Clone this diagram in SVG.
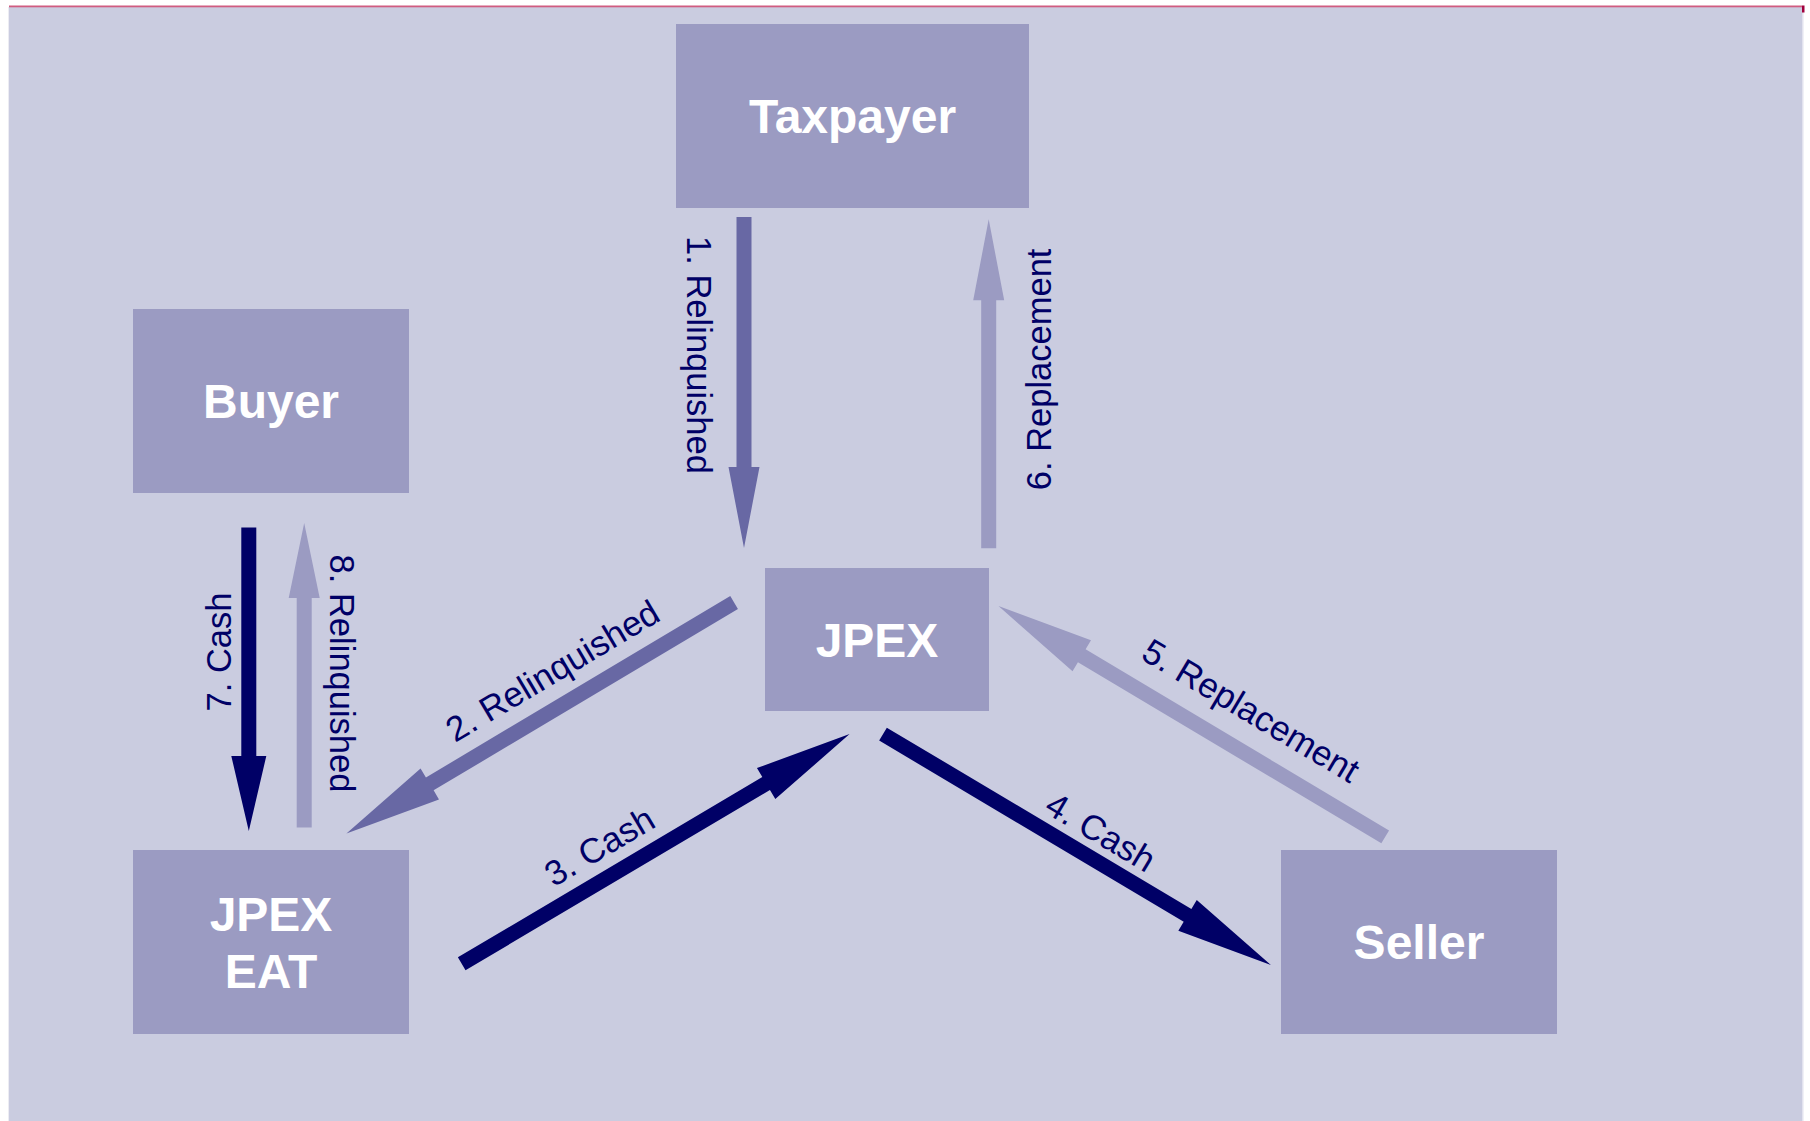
<svg xmlns="http://www.w3.org/2000/svg" width="1810" height="1121" viewBox="0 0 1810 1121">
  <style>
    .node rect { fill: #9b9bc2; }
    .node text { font-family: "Liberation Sans", Arial, sans-serif; font-weight: bold; font-size: 48px; fill: #ffffff; text-anchor: middle; }
    .lbl { font-family: "Liberation Sans", Arial, sans-serif; font-size: 34.5px; fill: #000066; text-anchor: middle; }
    .lbl.diag { font-size: 35px; }
    .dark { fill: #000066; }
    .mid { fill: #6868a4; }
    .light { fill: #9b9bc2; }
  </style>

  <!-- page and panel -->
  <rect x="0" y="0" width="1810" height="1121" fill="#ffffff"/>
  <rect x="9" y="7" width="1793" height="1114" fill="#cacce0"/>
  <rect x="8" y="7" width="1" height="1114" fill="#ececf3"/>
  <rect x="1802" y="7" width="1.5" height="1114" fill="#e2e2ee"/>
  <rect x="9" y="5.5" width="1793" height="1.8" fill="#d05c80"/>
  <rect x="1802" y="5.5" width="2.5" height="7" fill="#a0003c"/>

  <!-- connectors: arrows drawn along local +x, start at origin -->
  <g id="connectors">
    <!-- 1. Relinquished: Taxpayer -> JPEX -->
    <polygon class="mid" transform="translate(744,217) rotate(90)" points="0,-7.5 250,-7.5 250,-15.5 331,0 250,15.5 250,7.5 0,7.5"/>
    <!-- 6. Replacement: JPEX -> Taxpayer -->
    <polygon class="light" transform="translate(988.7,548.3) rotate(-90)" points="0,-7.5 248,-7.5 248,-15.5 329,0 248,15.5 248,7.5 0,7.5"/>
    <!-- 7. Cash: Buyer -> JPEX EAT -->
    <polygon class="dark" transform="translate(248.8,527.5) rotate(90)" points="0,-7.5 228.5,-7.5 228.5,-17.5 303.5,0 228.5,17.5 228.5,7.5 0,7.5"/>
    <!-- 8. Relinquished: JPEX EAT -> Buyer -->
    <polygon class="light" transform="translate(304.2,827.6) rotate(-90)" points="0,-7.5 229.7,-7.5 229.7,-15.5 304.7,0 229.7,15.5 229.7,7.5 0,7.5"/>
    <!-- 2. Relinquished: JPEX -> JPEX EAT -->
    <polygon class="mid" transform="translate(734.1,602.5) rotate(149.2)" points="0,-7.5 354.3,-7.5 354.3,-18 451.3,0 354.3,18 354.3,7.5 0,7.5"/>
    <!-- 3. Cash: JPEX EAT -> JPEX -->
    <polygon class="dark" transform="translate(461.7,963.8) rotate(-30.63)" points="0,-7.5 353.8,-7.5 353.8,-18 450.8,0 353.8,18 353.8,7.5 0,7.5"/>
    <!-- 4. Cash: JPEX -> Seller -->
    <polygon class="dark" transform="translate(883,734.1) rotate(30.76)" points="0,-7.5 354.4,-7.5 354.4,-18 451.4,0 354.4,18 354.4,7.5 0,7.5"/>
    <!-- 5. Replacement: Seller -> JPEX -->
    <polygon class="light" transform="translate(1385.2,836.9) rotate(-149.16)" points="0,-7.5 353.4,-7.5 353.4,-18 450.4,0 353.4,18 353.4,7.5 0,7.5"/>

    <text class="lbl" transform="translate(687,355) rotate(90)">1. Relinquished</text>
    <text class="lbl" transform="translate(1051,369.4) rotate(-90)">6. Replacement</text>
    <text class="lbl" transform="translate(231,652) rotate(-90)">7. Cash</text>
    <text class="lbl" transform="translate(330,673.5) rotate(90)">8. Relinquished</text>
    <text class="lbl diag" transform="translate(558.7,681.2) rotate(-30.8)">2. Relinquished</text>
    <text class="lbl diag" transform="translate(605.6,856.7) rotate(-30.6)">3. Cash</text>
    <text class="lbl diag" transform="translate(1094.5,842.3) rotate(30.8)">4. Cash</text>
    <text class="lbl diag" transform="translate(1244.8,721) rotate(30.8)">5. Replacement</text>
  </g>

  <g id="taxpayer" class="node">
    <rect x="676" y="24" width="353" height="184"/>
    <text x="852.5" y="133">Taxpayer</text>
  </g>
  <g id="buyer" class="node">
    <rect x="133" y="309" width="276" height="184"/>
    <text x="271" y="418">Buyer</text>
  </g>
  <g id="jpex" class="node">
    <rect x="765" y="568" width="224" height="143"/>
    <text x="877" y="656.5">JPEX</text>
  </g>
  <g id="jpex-eat" class="node">
    <rect x="133" y="850" width="276" height="184"/>
    <text x="271" y="930.7">JPEX</text>
    <text x="271" y="987.7">EAT</text>
  </g>
  <g id="seller" class="node">
    <rect x="1281" y="850" width="276" height="184"/>
    <text x="1419" y="959">Seller</text>
  </g>
</svg>
